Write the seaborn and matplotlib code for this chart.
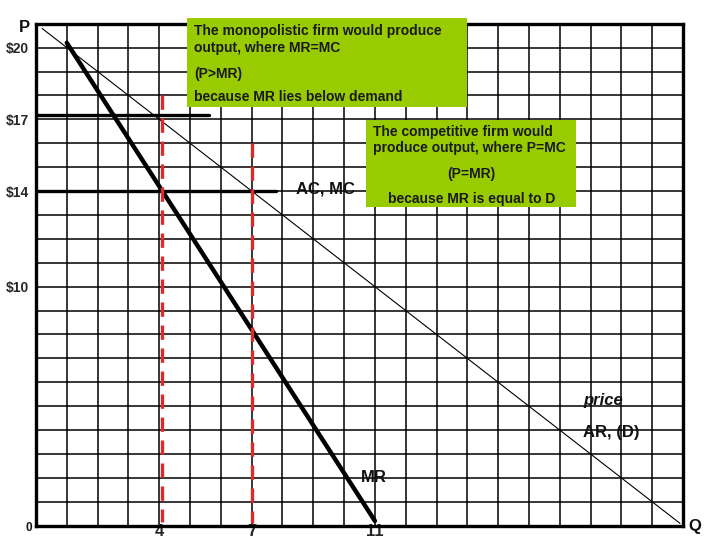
import matplotlib
matplotlib.use("Agg")
import matplotlib.pyplot as plt
import seaborn as sns
import pandas as pd
from matplotlib.patches import Rectangle
from matplotlib.ticker import MultipleLocator, FixedLocator

# ---------------- data ----------------
demand_q = [0.2, 20.9]
demand_p = [20.8, 0.1]
mr_q = [1.0, 11.0]
mr_p = [20.2, 0.2]
acmc_q = [0.0, 7.8]
acmc_p = [14.0, 14.0]
p17_q = [0.0, 5.6]
p17_p = [17.2, 17.2]
mono_q = [4.08, 4.08]
mono_p = [18.0, 0.15]
comp_q = [7.0, 7.0]
comp_p = [16.0, 0.1]
y_ticks = [10, 14, 17, 20]
y_labels = ["$10", "$14", "$17", "$20"]
x_ticks = [4, 7, 11]
x_labels = ["4", "7", "11"]

sns.set_theme(style="white")
plt.rcParams["font.family"] = ["Liberation Sans", "DejaVu Sans"]
plt.rcParams["font.weight"] = "bold"

W, H = 720, 540
fig = plt.figure(figsize=(7.2, 5.4), dpi=100)
ax = fig.add_axes([36 / W, (H - 525.7) / H, 647 / W, 502 / H])

def line(q, p, **kw):
    df = pd.DataFrame({"q": q, "p": p})
    sns.lineplot(data=df, x="q", y="p", ax=ax, sort=False, estimator=None, **kw)

line(demand_q, demand_p, color="black", lw=0.8, zorder=3)
line(mr_q, mr_p, color="black", lw=3.2, zorder=4)
line(acmc_q, acmc_p, color="black", lw=2.4, zorder=4)
line(p17_q, p17_p, color="black", lw=2.4, zorder=4)
line(mono_q, mono_p, color="#dd2a2a", lw=2.4, dashes=(4.3, 2.6), zorder=5)
line(comp_q, comp_p, color="#dd2a2a", lw=2.4, dashes=(4.3, 2.6), zorder=5)

ax.set_xlim(0, 21)
ax.set_ylim(0, 21)
ax.xaxis.set_major_locator(FixedLocator(x_ticks))
ax.yaxis.set_major_locator(FixedLocator(y_ticks))
ax.xaxis.set_minor_locator(MultipleLocator(1))
ax.yaxis.set_minor_locator(MultipleLocator(1))
ax.set_xticklabels(x_labels, fontsize=12, fontweight="bold")
ax.set_yticklabels(y_labels, fontsize=10, fontweight="bold")
ax.tick_params(which="both", length=0)
ax.tick_params(axis="x", pad=-1)
ax.tick_params(axis="y", pad=5)
ax.grid(True, which="both", color="black", lw=1.1, zorder=1)
ax.set_axisbelow(True)
ax.set_xlabel("")
ax.set_ylabel("")
for s in ax.spines.values():
    s.set_color("black")
    s.set_linewidth(2.4)

green = "#99cc00"
def box(x0, y0, x1, y1):
    ax.add_patch(Rectangle((x0 / W, 1 - y1 / H), (x1 - x0) / W, (y1 - y0) / H,
                           transform=fig.transFigure, facecolor=green,
                           edgecolor="none", clip_on=False, zorder=6))

box(187, 18, 467, 107)
box(366, 120, 576, 207)

def ftext(x, y, s, size=10, ha="left", style="normal", color="#111111"):
    fig.text(x / W, 1 - y / H, s, fontsize=size, ha=ha, va="center",
             fontweight="bold", style=style, color=color)

tc = "#1a1a1a"
ftext(194, 31, "The monopolistic firm would produce", 10, color=tc)
ftext(194, 48, "output, where MR=MC", 10, color=tc)
ftext(194, 74, "(P>MR)", 10, color=tc)
ftext(194, 97, "because MR lies below demand", 10, color=tc)

ftext(373, 132, "The competitive firm would", 10, color=tc)
ftext(373, 148, "produce output, where P=MC", 10, color=tc)
ftext(471, 174, "(P=MR)", 10, ha="center", color=tc)
ftext(388, 199, "because MR is equal to D", 10, color=tc)

ftext(296, 189, "AC, MC", 12)
ftext(583, 400, "price", 12, style="italic")
ftext(583, 433, "AR, (D)", 12)
ftext(361, 477, "MR", 12)
ftext(19, 27, "P", 12)
ftext(688, 526, "Q", 12)
ftext(25, 528, "0", 8.5)

fig.savefig("out.png", dpi=100)
